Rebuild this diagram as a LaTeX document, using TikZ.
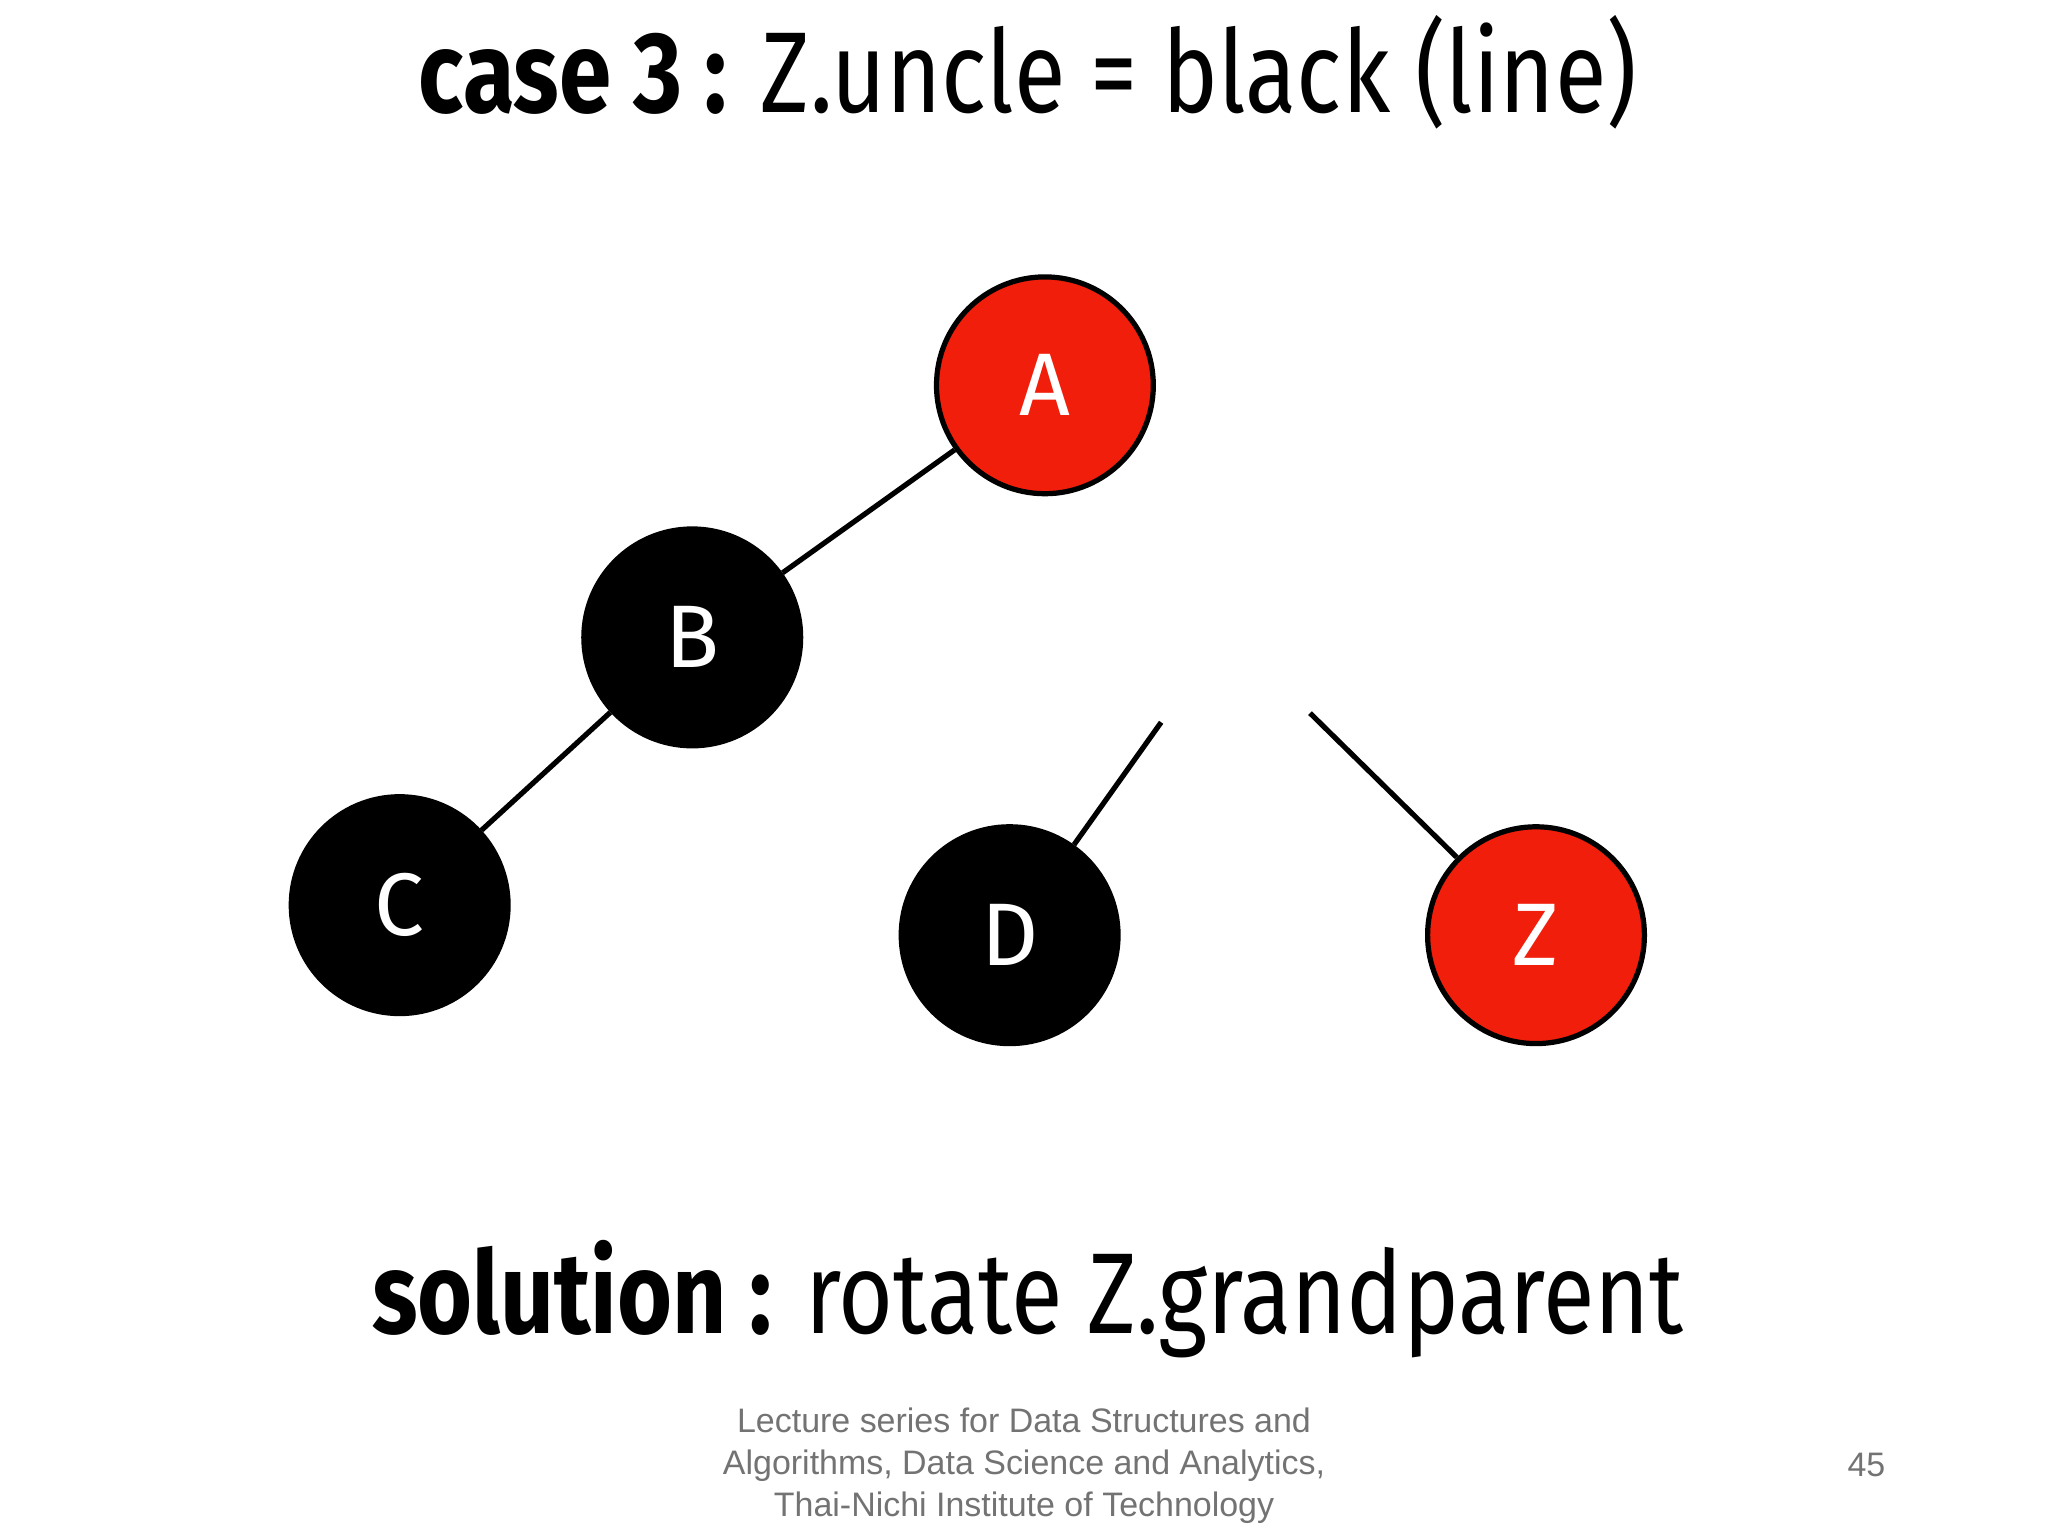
\documentclass[tikz,border=0pt]{standalone}
\usepackage{fontspec}
\setmainfont{Fira Sans}
\newfontfamily\foot{Liberation Sans}
\definecolor{rbred}{RGB}{240,30,10}
\begin{document}
\begin{tikzpicture}[x=0.5pt,y=-0.5pt,
  nd/.style={circle,draw=black,line width=2pt,minimum size=166*0.5pt,inner sep=0pt,text=white,font=\fontsize{34}{34}\selectfont},
  blk/.style={nd,fill=black},
  red/.style={nd,fill=rbred},
  edge/.style={line width=2pt},
  ttl/.style={font=\fontsize{44}{50}\selectfont,text=black},
  ft/.style={font=\foot\fontsize{13}{16}\selectfont,text=black!55}]
\useasboundingbox (0,0) rectangle (1568,1176);
\node[red] (A) at (800,295) {A};
\node[blk] (B) at (530,488) {B};
\node[blk] (C) at (306,693) {C};
\node[blk] (D) at (773,716) {D};
\node[red] (Z) at (1176,716) {Z};
\coordinate (d0) at (889,553);
\coordinate (z0) at (1003,546);
\draw[edge] (A) -- (B);
\draw[edge] (B) -- (C);
\draw[edge] (d0) -- (D);
\draw[edge] (z0) -- (Z);
\node[ttl] (title) at (787,55) {\scalebox{0.82}[1]{\textbf{case 3 :} Z.uncle = black (line)}};
\node[ttl] (sol) at (787,995) {\scalebox{0.82}[1]{\textbf{solution :} rotate Z.grandparent}};
\node[ft,align=center] (foot) at (784,1122) {Lecture series for Data Structures and\\Algorithms, Data Science and Analytics,\\Thai-Nichi Institute of Technology};
\node[ft] (pg) at (1429,1122) {45};
\end{tikzpicture}
\end{document}
